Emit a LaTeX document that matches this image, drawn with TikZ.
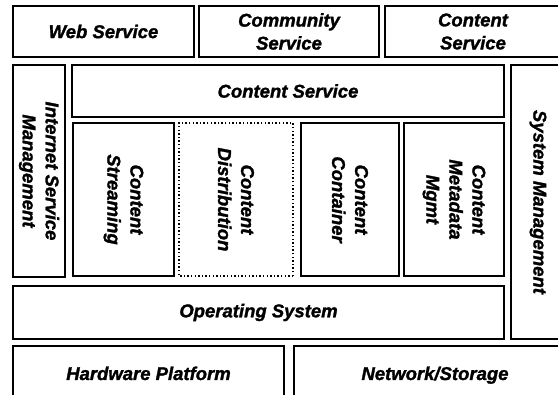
\documentclass[tikz,border=0pt]{standalone}
\usepackage{fontspec}
\setmainfont{Liberation Sans}[BoldItalicFeatures={FakeBold=1.5}]
\begin{document}
\begin{tikzpicture}[x=1pt,y=-1pt,
  box/.style={draw, line width=1.3pt, rectangle, inner sep=0pt, align=center,
    font=\fontsize{18.5}{23}\selectfont\bfseries\itshape},
  vbox/.style={box, rotate=-90},
  hbase/.style={text height=13pt, text depth=4pt}]
\clip (0,0) rectangle (558,395);
\fill[white] (0,0) rectangle (558,395);
% top row
\node[box, minimum width=181, minimum height=51] (web) at (103.5,31.5) {Web Service};
\node[box, minimum width=180, minimum height=51] (comm) at (289,31.5) {Community\\Service};
\node[box, minimum width=176, minimum height=51] (ctop) at (473,31.5) {Content\\Service};
% middle
\node[vbox, minimum width=212, minimum height=52] (ism) at (39,171) {Internet Service\\Management};
\node[box, minimum width=432, minimum height=52] (cs) at (288,91) {Content Service};
\node[vbox, minimum width=274, minimum height=54] (sysm) at (538,202) {System Management};
\node[vbox, minimum width=153, minimum height=101] (str) at (123.5,199.5) {Content\\Streaming};
\node[vbox, line width=1.9pt, dash pattern=on 1.4pt off 2.2pt, minimum width=153, minimum height=114] (dist) at (236,199.5) {Content\\Distribution};
\node[vbox, minimum width=153, minimum height=98] (cont) at (350,199.5) {Content\\Container};
\node[vbox, minimum width=153, minimum height=100] (meta) at (454,199.5) {Content\\Metadata\\Mgmt};
% bottom
\node[box, minimum width=491, minimum height=53] (os) at (258.5,312.5) {Operating System};
\node[box, hbase, minimum width=271, minimum height=59] (hw) at (148.5,375.5) {Hardware Platform};
\node[box, hbase, minimum width=282, minimum height=59] (net) at (435,375.5) {Network/Storage};
\end{tikzpicture}
\end{document}
